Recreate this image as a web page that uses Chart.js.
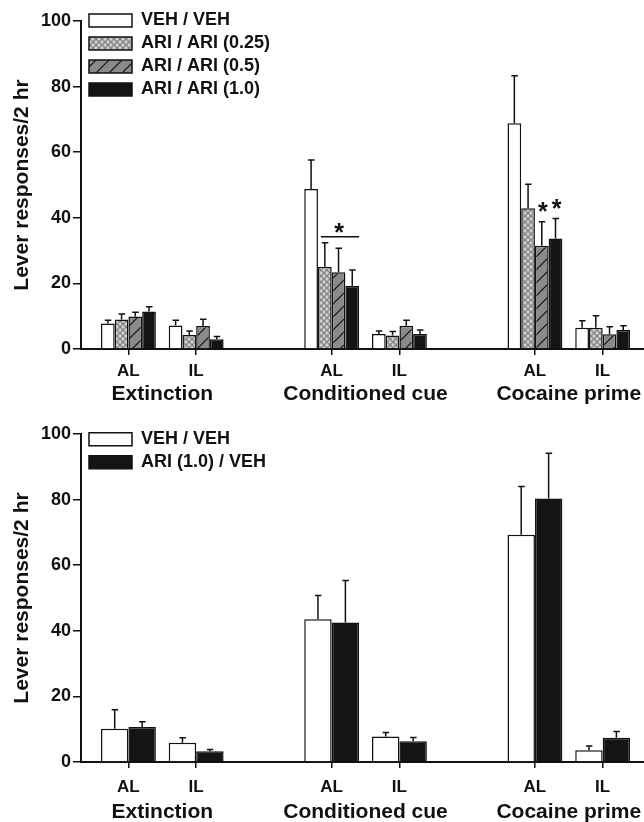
<!DOCTYPE html>
<html><head><meta charset="utf-8">
<script src="https://cdn.jsdelivr.net/npm/chart.js@4.4.1/dist/chart.umd.min.js"></script>
<style>
html,body{margin:0;padding:0;background:#fff;overflow:hidden;}
canvas{display:block;}
</style></head><body>
<canvas id="c1" width="644" height="411"></canvas>
<canvas id="c2" width="644" height="411"></canvas>
<script>
// ---------- data ----------
const categories = ['AL', 'IL', 'AL', 'IL', 'AL', 'IL'];
const phases = ['Extinction', 'Conditioned cue', 'Cocaine prime'];
const yTicks = [0, 20, 40, 60, 80, 100];
const yLabel = 'Lever responses/2 hr';

// top panel
const topSeries = ['VEH / VEH', 'ARI / ARI (0.25)', 'ARI / ARI (0.5)', 'ARI / ARI (1.0)'];
const topVehVeh    = [7.8, 7.2, 48.8, 4.6, 68.8, 6.5];
const topVehVehErr = [1.0, 1.6, 8.8, 0.9, 14.5, 2.1];
const topAri025    = [9.0, 4.3, 25.1, 4.1, 42.9, 6.5];
const topAri025Err = [1.7, 1.2, 7.3, 1.2, 7.3, 3.6];
const topAri05     = [9.9, 7.0, 23.4, 7.1, 31.5, 4.5];
const topAri05Err  = [1.3, 2.1, 7.3, 1.7, 7.3, 2.3];
const topAri10     = [11.4, 3.0, 19.3, 4.6, 33.7, 5.8];
const topAri10Err  = [1.5, 0.8, 4.8, 1.2, 6.1, 1.3];

// bottom panel
const bottomSeries = ['VEH / VEH', 'ARI (1.0) / VEH'];
const botVehVeh    = [10.1, 5.9, 43.5, 7.8, 69.3, 3.6];
const botVehVehErr = [5.8, 1.5, 7.3, 1.2, 14.7, 1.3];
const botAri       = [10.7, 3.3, 42.5, 6.3, 80.3, 7.4];
const botAriErr    = [1.6, 0.5, 12.8, 1.2, 13.8, 1.9];

// ---------- helpers ----------
const FONT = '"Liberation Sans", Arial, Helvetica, sans-serif';
const INK = '#111';
// slot index on the x scale: two categories per phase, one empty slot between phases
const slotOf = i => i + Math.floor(i / 2);
const slots = categories.map((_, i) => slotOf(i));
const phaseCenters = phases.map((_, p) => (slotOf(2 * p) + slotOf(2 * p + 1)) / 2);

function crossPattern() {
  const c = document.createElement('canvas'); c.width = 6; c.height = 6;
  const g = c.getContext('2d');
  g.fillStyle = '#858585'; g.fillRect(0, 0, 6, 6);
  g.fillStyle = '#d0d0d0';
  [[0,0],[6,0],[0,6],[6,6],[3,3]].forEach(([x,y]) => { g.beginPath(); g.arc(x, y, 1.65, 0, Math.PI*2); g.fill(); });
  return g.createPattern(c, 'repeat');
}
function hatchPattern() {
  const s = 13;
  const c = document.createElement('canvas'); c.width = s; c.height = s;
  const g = c.getContext('2d');
  g.fillStyle = '#8a8a8a'; g.fillRect(0, 0, s, s);
  g.strokeStyle = INK; g.lineWidth = 1.2;
  g.beginPath();
  g.moveTo(0, s); g.lineTo(s, 0);
  g.moveTo(-2, 2); g.lineTo(2, -2);
  g.moveTo(s-2, s+2); g.lineTo(s+2, s-2);
  g.stroke();
  return g.createPattern(c, 'repeat');
}

const errorBars = {
  id: 'errorBars',
  afterDatasetsDraw(chart) {
    const ctx = chart.ctx, y = chart.scales.y;
    chart.data.datasets.forEach((ds, di) => {
      const meta = chart.getDatasetMeta(di);
      meta.data.forEach((el, i) => {
        const top = y.getPixelForValue(ds.data[i].y + ds.errors[i]);
        ctx.save();
        ctx.strokeStyle = INK; ctx.lineWidth = 1.5;
        ctx.beginPath();
        ctx.moveTo(el.x, el.y); ctx.lineTo(el.x, top);
        ctx.moveTo(el.x - 3, top); ctx.lineTo(el.x + 3.5, top);
        ctx.stroke();
        ctx.restore();
      });
    });
  }
};

function drawStar(ctx, x, cy) {
  const size = 25;
  ctx.font = 'bold ' + size + 'px ' + FONT;
  ctx.textAlign = 'center'; ctx.textBaseline = 'alphabetic';
  ctx.fillText('*', x, cy + 0.57 * size);
}

const sigMarks = {
  id: 'sigMarks',
  afterDatasetsDraw(chart, args, opts) {
    const marks = opts.marks || [];
    if (!marks.length) return;
    const ctx = chart.ctx, y = chart.scales.y;
    ctx.save(); ctx.fillStyle = INK; ctx.strokeStyle = INK;
    marks.forEach(m => {
      const els = m.datasets.map(d => chart.getDatasetMeta(d).data[m.index]);
      const tops = m.datasets.map(d => {
        const ds = chart.data.datasets[d];
        return y.getPixelForValue(ds.data[m.index].y + ds.errors[m.index]);
      });
      if (m.type === 'bracket') {
        const first = els[0], last = els[els.length - 1];
        const x1 = first.x - first.width / 2 + 3, x2 = last.x + last.width / 2;
        const ly = Math.min(...tops) - 6;
        ctx.lineWidth = 1.5;
        ctx.beginPath(); ctx.moveTo(x1, ly); ctx.lineTo(x2, ly); ctx.stroke();
        drawStar(ctx, (x1 + x2) / 2 - 1, ly - 10);
      } else {
        els.forEach((el, k) => drawStar(ctx, el.x + 1, tops[k] - 16));
      }
    });
    ctx.restore();
  }
};

// place the (vertical) legend relative to the top of the chart area
const legendShift = {
  id: 'legendShift',
  afterLayout(chart, args, opts) {
    const lg = chart.legend;
    if (!lg) return;
    const h = lg.bottom - lg.top;
    lg.top = chart.chartArea.top + (opts.dy || 0);
    lg.bottom = lg.top + h;
    lg.left = chart.chartArea.left + (opts.dx || 0);
    lg.right = lg.left + lg.width;
  }
};

function makePanel(canvasId, cfg) {
  const datasets = cfg.series.map((name, k) => ({
    label: name,
    data: cfg.values[k].map((v, i) => ({ x: slots[i], y: v })),
    errors: cfg.errors[k],
    backgroundColor: cfg.fills[k],
    borderColor: INK,
    borderWidth: 1.5,
    categoryPercentage: 0.81,
    barPercentage: 1.0
  }));
  const xMin = -0.70, xMax = 7.61;
  return new Chart(document.getElementById(canvasId), {
    type: 'bar',
    data: { datasets },
    plugins: [errorBars, sigMarks, legendShift],
    options: {
      responsive: false,
      animation: false,
      events: [],
      layout: { padding: { left: 0, right: 0, top: cfg.top, bottom: 0 } },
      plugins: {
        tooltip: { enabled: false },
        legend: {
          position: 'chartArea',
          align: 'start',
          labels: {
            boxWidth: 43, boxHeight: 13, padding: 5,
            color: INK, font: { family: FONT, size: 18, weight: 'bold' }
          }
        },
        legendShift: { dx: 3, dy: cfg.legendDy },
        sigMarks: { marks: cfg.marks || [] }
      },
      scales: {
        x: {
          type: 'linear', position: 'bottom', weight: 0,
          min: xMin, max: xMax, offset: false,
          grid: { display: true, offset: false, drawOnChartArea: false, drawTicks: true, tickLength: 6, color: INK, lineWidth: 1.5 },
          border: { display: true, color: INK, width: 2 },
          afterBuildTicks: s => { s.ticks = slots.map(v => ({ value: v })); },
          afterFit: s => { s.height = 33; s.paddingLeft = 0; s.paddingRight = 0; },
          ticks: {
            autoSkip: false, maxRotation: 0, padding: cfg.xPad, color: INK,
            font: { family: FONT, size: 17, weight: 'bold' },
            callback: (v, i) => categories[i]
          }
        },
        x2: {
          type: 'linear', position: 'bottom', weight: 1,
          min: xMin, max: xMax, offset: false,
          grid: { display: false, drawTicks: false, offset: false },
          border: { display: false },
          afterBuildTicks: s => { s.ticks = phaseCenters.map(v => ({ value: v })); },
          afterFit: s => { s.height = cfg.x2h; s.paddingLeft = 0; s.paddingRight = 0; },
          ticks: {
            autoSkip: false, maxRotation: 0, padding: cfg.x2Pad, color: INK,
            font: { family: FONT, size: 21, weight: 'bold' },
            callback: (v, i) => phases[i]
          }
        },
        y: {
          min: 0, max: 100,
          grid: { display: true, drawOnChartArea: false, drawTicks: true, tickLength: 8, color: INK, lineWidth: 1.5 },
          border: { display: true, color: INK, width: 2 },
          afterBuildTicks: s => { s.ticks = yTicks.map(v => ({ value: v })); },
          afterFit: s => { s.width = 81; s.paddingTop = 0; s.paddingBottom = 0; },
          ticks: { padding: 2, color: INK, font: { family: FONT, size: 18, weight: 'bold' } },
          title: {
            display: true, text: yLabel, color: INK,
            padding: { top: 10, bottom: 0 },
            font: { family: FONT, size: 21, weight: 'bold' }
          }
        }
      }
    }
  });
}

makePanel('c1', {
  series: topSeries,
  values: [topVehVeh, topAri025, topAri05, topAri10],
  errors: [topVehVehErr, topAri025Err, topAri05Err, topAri10Err],
  fills: ['#ffffff', crossPattern(), hatchPattern(), '#141414'],
  top: 21, x2h: 29, xPad: 6, x2Pad: 0,
  legendDy: -14.5,
  marks: [
    { type: 'bracket', index: 2, datasets: [1, 2, 3] },
    { type: 'stars', index: 4, datasets: [2, 3] }
  ]
});

makePanel('c2', {
  series: bottomSeries,
  values: [botVehVeh, botAri],
  errors: [botVehVehErr, botAriErr],
  fills: ['#ffffff', '#141414'],
  top: 23, x2h: 27, xPad: 9, x2Pad: 5,
  legendDy: -8.8,
  marks: []
});
</script>
</body></html>
